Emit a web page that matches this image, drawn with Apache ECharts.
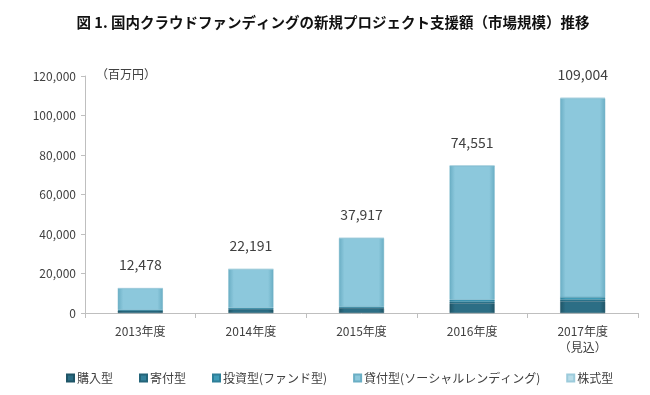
<!DOCTYPE html>
<html>
<head>
<meta charset="utf-8">
<script src="https://cdn.jsdelivr.net/npm/echarts@6/dist/echarts.min.js"></script>
<style>html,body{margin:0;padding:0;background:#fff;}#c{width:650px;height:395px;}</style>
</head>
<body>
<div id="c"></div>
<script>
const categories = ['2013年度', '2014年度', '2015年度', '2016年度', '2017年度\n（見込）'];
const totals = [12478, 22191, 37917, 74551, 109004];
const purchase = [1100, 1800, 2400, 5000, 6000];
const donation = [100, 200, 300, 700, 700];
const fund = [300, 600, 500, 1000, 1300];
const equity = [0, 0, 0, 0, 300];
const lending = totals.map((t, i) => t - purchase[i] - donation[i] - fund[i] - equity[i]);
const yTicks = { min: 0, max: 120000, interval: 20000 };
const legendNames = ['購入型', '寄付型', '投資型(ファンド型)', '貸付型(ソーシャルレンディング)', '株式型'];

const font = '"Noto Sans CJK JP", "Noto Sans", sans-serif';
function grad(c1, c2) {
  return new echarts.graphic.LinearGradient(0, 0, 1, 0, [
    { offset: 0, color: c2 }, { offset: 0.12, color: c1 }, { offset: 0.88, color: c1 }, { offset: 1, color: c2 }
  ]);
}
const chart = echarts.init(document.getElementById('c'));
function ser(name, data, c1, c2, extra) {
  return Object.assign({
    name, type: 'bar', stack: 'total', data, barWidth: 45,
    itemStyle: { color: grad(c1, c2), borderColor: c2, borderWidth: 0.5 }
  }, extra || {});
}
chart.setOption({
  animation: false,
  textStyle: { fontFamily: font },
  title: {
    text: '図 1. 国内クラウドファンディングの新規プロジェクト支援額（市場規模）推移',
    left: 328, top: 10, textAlign: 'center',
    textStyle: { fontSize: 14.5, fontWeight: 'bold', color: '#111', fontFamily: font }
  },
  graphic: [{
    type: 'text', left: 96, top: 68,
    style: { text: '（百万円）', fontSize: 12, fill: '#404040', fontFamily: font }
  }],
  legend: {
    bottom: 6, left: 61, itemWidth: 7, itemHeight: 7, itemGap: 26,
    icon: 'rect',
    textStyle: { fontSize: 12, color: '#404040', fontFamily: font, padding: [0, 0, 0, -2] },
    data: legendNames
  },
  grid: { left: 85, right: 12, top: 76, bottom: 82 },
  xAxis: {
    type: 'category', data: categories,
    axisLine: { lineStyle: { color: '#bfbfbf' } },
    axisTick: { show: true, length: 5, lineStyle: { color: '#bfbfbf' } },
    axisLabel: { color: '#404040', fontSize: 12, margin: 10, lineHeight: 16, fontFamily: font }
  },
  yAxis: {
    type: 'value', min: yTicks.min, max: yTicks.max, interval: yTicks.interval,
    axisLine: { show: true, lineStyle: { color: '#bfbfbf' } },
    axisTick: { show: true, length: 4, lineStyle: { color: '#bfbfbf' } },
    splitLine: { show: false },
    axisLabel: { color: '#404040', fontSize: 12, margin: 9, fontFamily: font,
      formatter: v => v.toLocaleString('en-US') }
  },
  series: [
    ser(legendNames[0], purchase, '#2c6e85', '#1f5567'),
    ser(legendNames[1], donation, '#33819b', '#24657a'),
    ser(legendNames[2], fund, '#3f9bb7', '#2e7f98'),
    ser(legendNames[3], lending, '#8cc8dc', '#6aaec4'),
    ser(legendNames[4], equity, '#b9dde9', '#9ccbdb', {
      label: {
        show: true, position: 'top', distance: 16,
        formatter: p => totals[p.dataIndex].toLocaleString('en-US'),
        fontSize: 14, color: '#404040', fontFamily: font
      }
    })
  ]
});
</script>
</body>
</html>
